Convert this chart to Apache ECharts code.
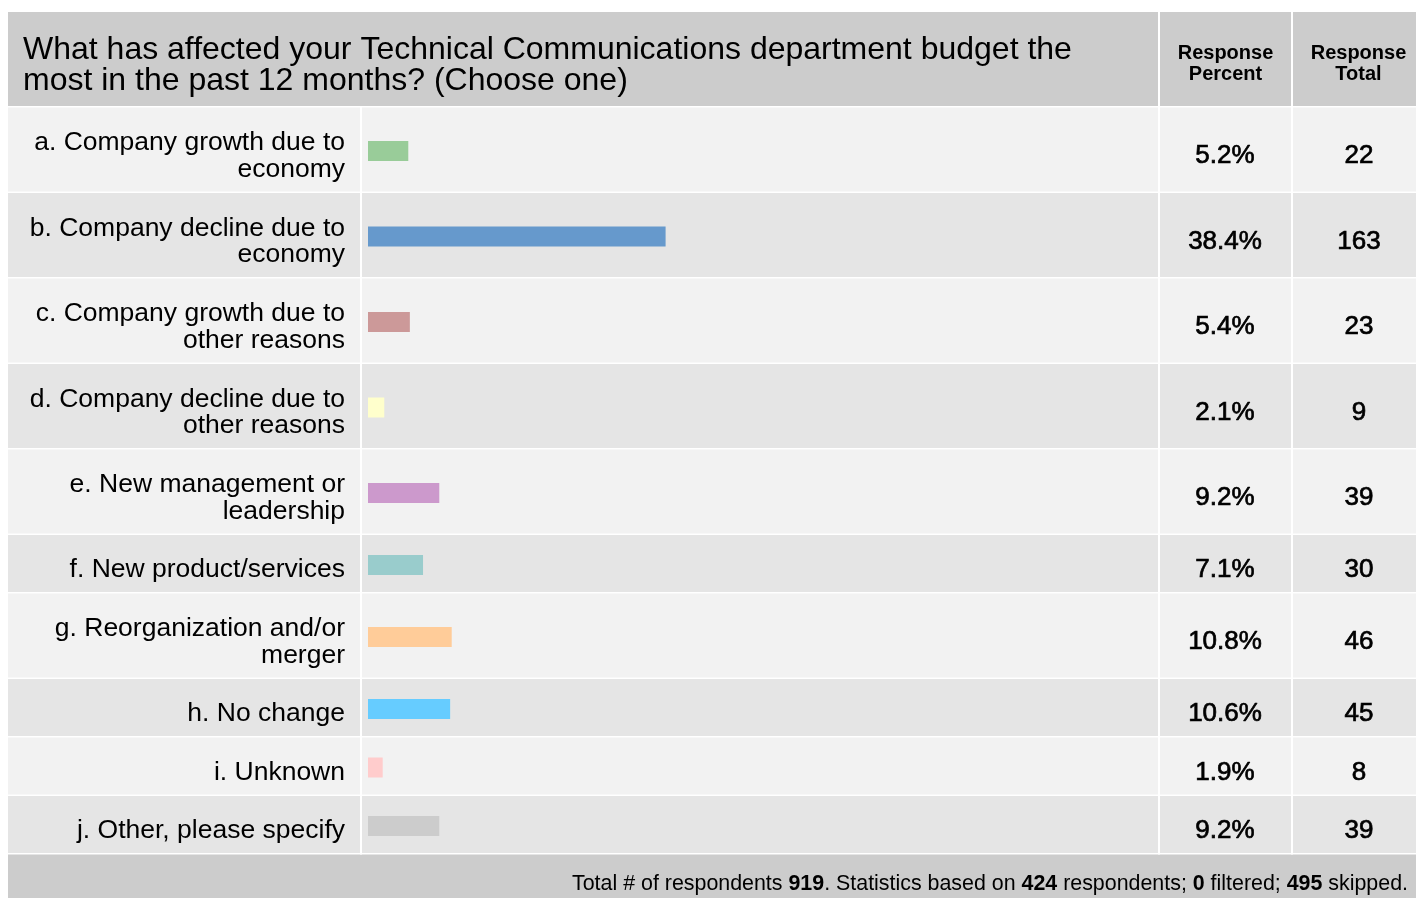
<!DOCTYPE html>
<html>
<head>
<meta charset="utf-8">
<title>Budget survey</title>
<style>
  html, body { margin: 0; padding: 0; background: #fff; }
  #chart { width: 1416px; height: 898px; }
</style>
<script src="https://cdn.jsdelivr.net/npm/echarts@6/dist/echarts.min.js"></script>
</head>
<body>
<div id="chart"></div>
<script>
// survey answers, one row each
const answers = [
  'a. Company growth due to\neconomy',
  'b. Company decline due to\neconomy',
  'c. Company growth due to\nother reasons',
  'd. Company decline due to\nother reasons',
  'e. New management or\nleadership',
  'f. New product/services',
  'g. Reorganization and/or\nmerger',
  'h. No change',
  'i. Unknown',
  'j. Other, please specify'
];
const percents = [5.2, 38.4, 5.4, 2.1, 9.2, 7.1, 10.8, 10.6, 1.9, 9.2];
const totals = [22, 163, 23, 9, 39, 30, 46, 45, 8, 39];
const barColors = ['#99cc99', '#6699cc', '#cc9999', '#ffffcc', '#cc99cc',
                   '#99cccc', '#ffcc99', '#66ccff', '#ffcccc', '#cccccc'];

const question = 'What has affected your Technical Communications department budget the\nmost in the past 12 months? (Choose one)';
const columnHeads = ['Response\nPercent', 'Response\nTotal'];

const totalRespondents = 919;
const basedOn = 424;
const filtered = 0;
const skipped = 495;

const FONT = "'Liberation Sans', Arial, Helvetica, sans-serif";
const chart = echarts.init(document.getElementById('chart'));

// rows with two-line labels are taller
const rowTops = [];
const rowHeights = [];
let y = 107.5;
answers.forEach(a => {
  const pitch = a.includes('\n') ? 85.5 : 58.5;
  rowTops.push(y);
  rowHeights.push(pitch - 1.5);
  y += pitch;
});
const footerTop = y;
const n = answers.length;

// one grid per row for the bar, and a second one (sitting a little lower) for the row's texts
const grids = [], xAxes = [], yAxes = [], series = [];
answers.forEach((a, i) => {
  grids.push({ left: 368, right: 273, top: rowTops[i] + 1.5, height: rowHeights[i] });
  xAxes.push({ gridIndex: i, type: 'value', min: 0, max: 100, show: false });
});
answers.forEach((a, i) => {
  grids.push({ left: 368, right: 273, top: rowTops[i] + 6.5, height: rowHeights[i] });
  xAxes.push({ gridIndex: n + i, type: 'value', min: 0, max: 100, show: false });
});
answers.forEach((a, i) => {
  const hidden = { axisLine: { show: false }, axisTick: { show: false } };
  yAxes.push({ gridIndex: i, type: 'category', data: [a], show: false });
  yAxes.push(Object.assign({
    gridIndex: n + i, type: 'category', data: [a],
    axisLabel: { margin: 23, align: 'right', fontSize: 26.5, lineHeight: 26.5,
                 color: '#000', fontFamily: FONT }
  }, hidden));
  yAxes.push(Object.assign({
    gridIndex: n + i, type: 'category', position: 'right', data: [percents[i].toFixed(1) + '%'],
    axisLabel: { margin: 82, align: 'center', fontSize: 26, color: '#000', fontFamily: FONT,
                 textBorderColor: '#000', textBorderWidth: 0.7 }
  }, hidden));
  yAxes.push(Object.assign({
    gridIndex: n + i, type: 'category', position: 'right', data: [String(totals[i])],
    axisLabel: { margin: 216, align: 'center', fontSize: 26, color: '#000', fontFamily: FONT,
                 textBorderColor: '#000', textBorderWidth: 0.7 }
  }, hidden));
  series.push({
    type: 'bar', xAxisIndex: i, yAxisIndex: i * 4,
    data: [percents[i]], barWidth: 20, silent: true,
    itemStyle: { color: barColors[i] }
  });
});

// table backgrounds and cell separators
const graphics = [
  { type: 'rect', shape: { x: 8, y: 12, width: 1408, height: 94 }, style: { fill: '#cccccc' } },
  { type: 'rect', shape: { x: 8, y: footerTop, width: 1408, height: 898 - footerTop }, style: { fill: '#cccccc' } }
];
rowTops.forEach((t, i) => {
  graphics.push({ type: 'rect', shape: { x: 8, y: t, width: 1408, height: rowHeights[i] },
                  style: { fill: i % 2 ? '#e5e5e5' : '#f2f2f2' } });
});
graphics.push(
  { type: 'rect', shape: { x: 360, y: 106, width: 2, height: footerTop - 106 }, style: { fill: '#fff' } },
  { type: 'rect', shape: { x: 1158, y: 12, width: 2, height: footerTop - 12 }, style: { fill: '#fff' } },
  { type: 'rect', shape: { x: 1291, y: 12, width: 2, height: footerTop - 12 }, style: { fill: '#fff' } },
  { type: 'text', x: 23, y: 65.5, style: {
      text: question, font: '32px ' + FONT, lineHeight: 31.5, fill: '#000',
      align: 'left', verticalAlign: 'middle' } },
  { type: 'text', x: 1225.5, y: 64, style: {
      text: columnHeads[0], font: 'bold 20px ' + FONT, lineHeight: 21, fill: '#000',
      align: 'center', verticalAlign: 'middle' } },
  { type: 'text', x: 1358.5, y: 64, style: {
      text: columnHeads[1], font: 'bold 20px ' + FONT, lineHeight: 21, fill: '#000',
      align: 'center', verticalAlign: 'middle' } },
  { type: 'text', x: 1408, y: 884, style: {
      text: 'Total # of respondents {b|' + totalRespondents + '}. Statistics based on {b|' + basedOn +
            '} respondents; {b|' + filtered + '} filtered; {b|' + skipped + '} skipped.',
      fontSize: 21.4, fontFamily: FONT, fill: '#000', align: 'right', verticalAlign: 'middle',
      rich: { b: { fontSize: 21.4, fontFamily: FONT, fontWeight: 'bold', fill: '#000' } } } }
);

chart.setOption({
  animation: false,
  backgroundColor: '#ffffff',
  graphic: graphics,
  grid: grids,
  xAxis: xAxes,
  yAxis: yAxes,
  series: series
});

window.addEventListener('resize', function () {
  chart.resize();
});
</script>
</body>
</html>
